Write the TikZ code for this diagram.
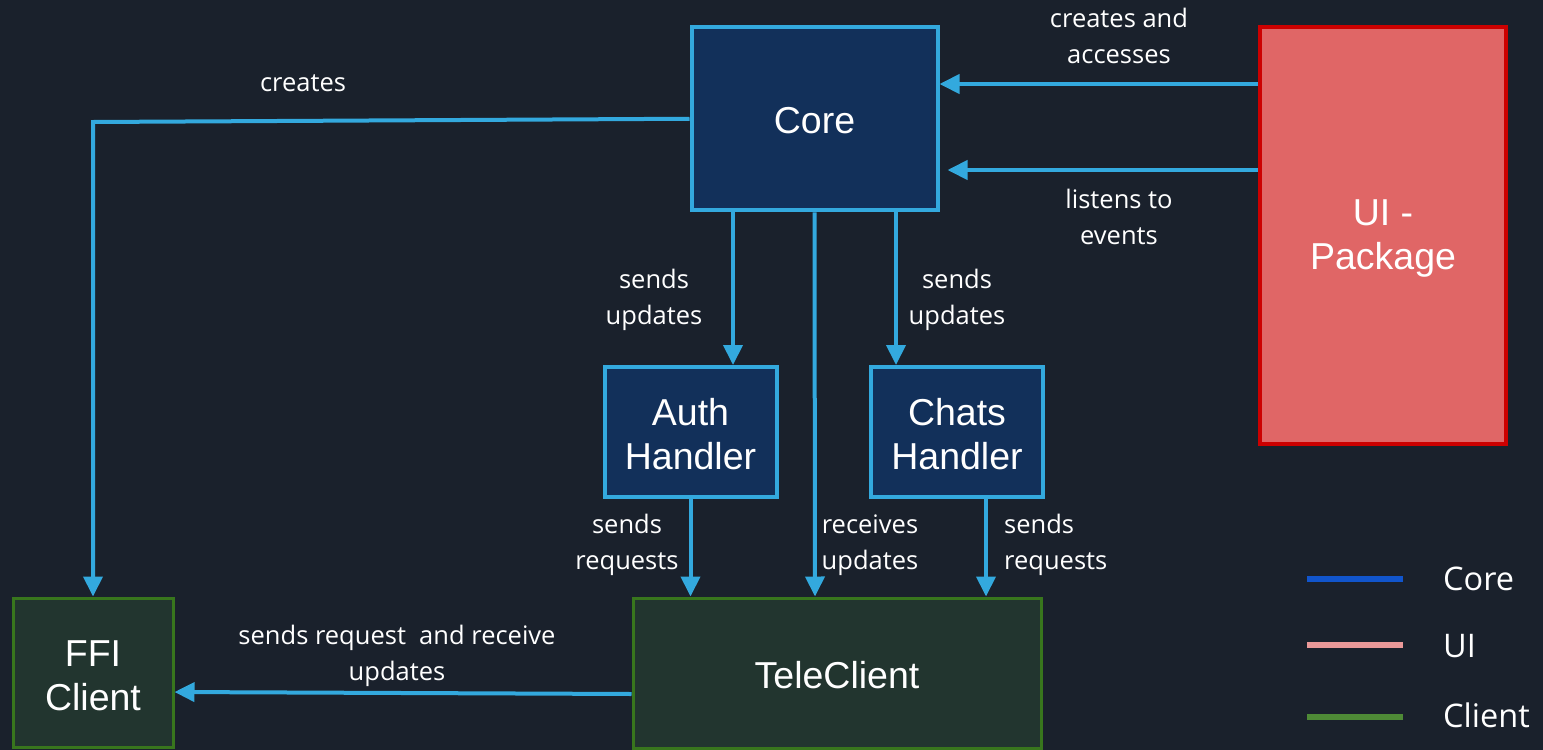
\documentclass[tikz,border=0pt]{standalone}
\usepackage{fontspec}
\setmainfont{Open Sans}
\newfontfamily\boxfont{Liberation Sans}
\usetikzlibrary{arrows.meta}
\definecolor{bg}{HTML}{1A212C}
\definecolor{wire}{HTML}{33A9DE}
\definecolor{corefill}{HTML}{12305A}
\definecolor{uifill}{HTML}{E06666}
\definecolor{uiedge}{HTML}{CC0000}
\definecolor{clientfill}{HTML}{22352F}
\definecolor{clientedge}{HTML}{38761D}
\definecolor{legcore}{HTML}{1155CC}
\definecolor{legui}{HTML}{EA9999}
\definecolor{legclient}{HTML}{4E8A36}
\tikzset{
  boxtext/.style={font=\boxfont\fontsize{37.5}{44}\selectfont},
  corebox/.style={draw=wire, fill=corefill, line width=4pt, text=white, align=center, inner sep=0pt, boxtext},
  uibox/.style={draw=uiedge, fill=uifill, line width=4pt, text=white, align=center, inner sep=0pt, boxtext},
  clientbox/.style={draw=clientedge, fill=clientfill, line width=3pt, text=white, align=center, inner sep=0pt, boxtext},
  arr/.style={draw=wire, line width=4pt, -{Triangle[length=20pt,width=19pt]}},
  lbl/.style={text=white, align=center, font=\fontsize{25.5}{36}\selectfont, inner sep=0pt},
  legline/.style={line width=6pt},
  legtext/.style={text=white, anchor=west, font=\fontsize{32.5}{36}\selectfont, inner sep=0pt}
}
\begin{document}
\begin{tikzpicture}[x=1pt, y=-1pt]
  \fill[bg] (0,0) rectangle (1543,750);
  \useasboundingbox (0,0) rectangle (1543,750);

  % boxes
  \node[corebox, minimum width=246pt, minimum height=183pt] (core) at (814.5,118.75) {};
  \node[uibox, minimum width=246pt, minimum height=417pt] (ui) at (1383,235.5) {};
  \node[corebox, minimum width=172pt, minimum height=130pt] (auth) at (690.5,432) {};
  \node[corebox, minimum width=172pt, minimum height=130pt] (chats) at (957,432) {};
  \node[clientbox, minimum width=408pt, minimum height=150pt] (tele) at (837,673) {};
  \node[clientbox, minimum width=160pt, minimum height=149pt] (ffi) at (93,672.5) {};

  % box captions
  \node[text=white, boxtext, align=center] (coret) at ([yshift=-2pt]core.center) {Core};
  \node[text=white, boxtext, align=center] (uit) at ([yshift=-3pt]ui.center) {UI -\\Package};
  \node[text=white, boxtext, align=center] (autht) at ([yshift=-2pt]auth.center) {Auth\\Handler};
  \node[text=white, boxtext, align=center] (chatst) at ([yshift=-2pt]chats.center) {Chats\\Handler};
  \node[text=white, boxtext, align=center] (telet) at ([yshift=-2pt]tele.center) {TeleClient};
  \node[text=white, boxtext, align=center] (ffit) at ([yshift=-3pt]ffi.center) {FFI\\Client};

  % connectors
  \draw[arr] ([yshift=151.5pt]ui.west) -- ([yshift=34.75pt]core.east);
  \draw[arr, shorten >=8pt] ([yshift=65.5pt]ui.west) -- ([yshift=-51.25pt]core.east);
  \draw[arr] (core.west) -- (ffi.north |- 0,122) -- (ffi.north);
  \draw[arr] ([xshift=-81.5pt]core.south) -- ([xshift=42.5pt]auth.north);
  \draw[arr] (core.south) -- ([xshift=-22pt]tele.north);
  \draw[arr] ([xshift=81.5pt]core.south) -- ([xshift=-61pt]chats.north);
  \draw[arr] (auth.south) -- ([xshift=-146.5pt]tele.north);
  \draw[arr] ([xshift=29pt]chats.south) -- ([xshift=149pt]tele.north);
  \draw[arr] ([yshift=-21pt]tele.west) -- ([yshift=-19.5pt]ffi.east);

  % connector labels
  \node[lbl] (l1) at (1119,36) {creates and\\accesses};
  \node[lbl] (l2) at (1119,217) {listens to\\events};
  \node[lbl] (l3) at (303,83) {creates};
  \node[lbl] (l4) at (654,300) {sends\\updates};
  \node[lbl] (l5) at (957,300) {sends\\updates};
  \node[lbl] (l6) at (627,545) {sends\\requests};
  \node[lbl] (l7) at (870,545) {receives\\updates};
  \node[lbl, align=left, anchor=west] (l8) at (1004,545) {sends\\requests};
  \node[lbl] (l9) at (397,656) {sends request\ \ and receive\\updates};

  % legend
  \draw[legline, legcore] (1307,579) coordinate (k1a) -- (1403,579) coordinate (k1b);
  \draw[legline, legui] (1307,645) coordinate (k2a) -- (1403,645) coordinate (k2b);
  \draw[legline, legclient] (1307,717) coordinate (k3a) -- (1403,717) coordinate (k3b);
  \node[legtext] (t1) at (1443,579) {Core};
  \node[legtext] (t2) at (1443,646) {UI};
  \node[legtext] (t3) at (1443,715) {Client};
\end{tikzpicture}
\end{document}
